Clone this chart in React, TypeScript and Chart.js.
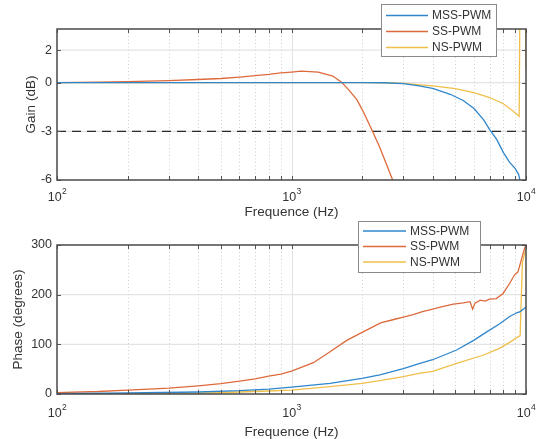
import React, { useEffect, useRef } from 'react';
import { Chart, registerables } from 'chart.js';
Chart.register(...registerables);

const FONT = "'Liberation Sans', Arial, Helvetica, sans-serif";
const TEXT = '#333333';

const seriesNames = ['MSS-PWM', 'SS-PWM', 'NS-PWM'];
const seriesColors = ['#2f86cc', '#dd6a3c', '#efbf4a'];

// ---- Gain (dB) ----
const gainFreqMSS = [100, 1000, 2000, 2500, 3000, 3500, 4000, 4750, 5400, 6000, 6600, 7000, 7500, 8000, 8500, 9000, 9300, 9450, 10000];
const gainMSS = [0, 0, 0, -0.01, -0.07, -0.2, -0.35, -0.72, -1.1, -1.6, -2.3, -2.9, -3.5, -4.3, -4.9, -5.3, -5.65, -6.1, -9];

const gainFreqSS = [100, 150, 200, 300, 400, 500, 600, 700, 800, 900, 1000, 1100, 1300, 1500, 1640, 1750, 1900, 2020, 2200, 2380, 2700, 3000];
const gainSS = [0, 0.03, 0.06, 0.12, 0.19, 0.25, 0.34, 0.43, 0.51, 0.6, 0.65, 0.7, 0.65, 0.4, 0, -0.43, -1.05, -1.77, -2.9, -4.0, -6.0, -8.0];

const gainFreqNS = [100, 1000, 2000, 2500, 3000, 4000, 5000, 6000, 7000, 8000, 8800, 9200, 9350, 9450, 9900, 10000];
const gainNS = [0, 0, 0, -0.01, -0.05, -0.2, -0.37, -0.62, -0.92, -1.3, -1.75, -2.0, -2.08, 8, 8, 0.8];

const cutoffDb = -3;

// ---- Phase (degrees) ----
const phaseFreqMSS = [100, 200, 400, 600, 800, 1000, 1460, 2000, 2380, 3000, 3500, 4000, 5060, 5980, 6800, 7700, 8520, 9130, 9440, 9860, 10000];
const phaseMSS = [0.6, 2, 4, 6.7, 10, 14, 21.5, 31.5, 38.5, 51, 61, 69, 88.6, 108, 125, 141, 156, 163.5, 166, 172.5, 175];

const phaseFreqSS = [100, 150, 200, 300, 400, 500, 600, 700, 800, 900, 1000, 1240, 1460, 1720, 2000, 2400, 2730, 3000, 3300, 3620, 4000, 4400, 4900, 5400, 5770, 5920, 6060, 6380, 6700, 7000, 7470, 7970, 8500, 8940, 9240, 9550, 9860, 10000];
const phaseSS = [2.7, 5, 8, 12, 16.5, 21, 26, 30.5, 36, 40, 46, 63, 85, 108, 124, 143, 150, 155, 160, 166, 171, 176, 181, 183.5, 186, 171, 183, 189, 187, 191, 192, 202, 222, 240, 246, 270, 293, 300];

const phaseFreqNS = [100, 200, 400, 600, 800, 1000, 1460, 2000, 2380, 3000, 3500, 4000, 5060, 6600, 7700, 8520, 9240, 9440, 9650, 9900, 10000];
const phaseNS = [0, 0.7, 1.5, 4, 6, 8, 14.8, 21.5, 26.8, 34.8, 41.6, 45.5, 61.8, 78.5, 92, 104, 115, 117, 265, 285, 290];

// ---- Axes ----
const freqRange = [100, 10000];
const gainRange = [-6, 3.3];
const phaseRange = [0, 300];
const xTickValues = [100, 200, 300, 400, 500, 600, 700, 800, 900, 1000, 2000, 3000, 4000, 5000, 6000, 7000, 8000, 9000, 10000];
const xMajorTicks = [100, 1000, 10000];
const xTickBase = '10';
const xTickExponents = ['2', '3', '4'];
const gainTicks = [-6, -3, 0, 2];
const phaseTicks = [0, 100, 200, 300];

const toPoints = (xs: number[], ys: number[]) => xs.map((x, i) => ({ x, y: ys[i] }));

const matlabAxes = {
  id: 'matlabAxes',
  beforeDatasetsDraw(chart: any) {
    const { ctx, chartArea: a, scales } = chart;
    const x = scales.x, y = scales.y;
    ctx.save();
    ctx.strokeStyle = '#e4e4e4';
    ctx.lineWidth = 1.2;
    y.ticks.forEach((t: any) => {
      const py = y.getPixelForValue(t.value);
      if (py <= a.top + 1 || py >= a.bottom - 1) return;
      ctx.beginPath();
      ctx.moveTo(a.left, py);
      ctx.lineTo(a.right, py);
      ctx.stroke();
    });
    x.ticks.forEach((t: any) => {
      const px = Math.round(x.getPixelForValue(t.value)) + 0.5;
      if (px <= a.left + 1 || px >= a.right - 1) return;
      ctx.beginPath();
      if (xMajorTicks.includes(t.value)) {
        ctx.setLineDash([]);
        ctx.strokeStyle = '#e4e4e4';
        ctx.lineWidth = 1.2;
      } else {
        ctx.setLineDash([1, 2.5]);
        ctx.strokeStyle = '#cfcfcf';
        ctx.lineWidth = 1;
      }
      ctx.moveTo(px, a.top);
      ctx.lineTo(px, a.bottom);
      ctx.stroke();
    });
    ctx.restore();
  },
  afterDatasetsDraw(chart: any) {
    const { ctx, chartArea: a, scales } = chart;
    const x = scales.x, y = scales.y;
    ctx.save();
    ctx.strokeStyle = '#555555';
    ctx.lineWidth = 1;
    x.ticks.forEach((t: any) => {
      const px = Math.round(x.getPixelForValue(t.value)) + 0.5;
      const len = 4;
      ctx.beginPath();
      ctx.moveTo(px, a.bottom);
      ctx.lineTo(px, a.bottom - len);
      ctx.moveTo(px, a.top);
      ctx.lineTo(px, a.top + len);
      ctx.stroke();
    });
    y.ticks.forEach((t: any) => {
      const py = Math.round(y.getPixelForValue(t.value)) + 0.5;
      ctx.beginPath();
      ctx.moveTo(a.left, py);
      ctx.lineTo(a.left + 4, py);
      ctx.moveTo(a.right, py);
      ctx.lineTo(a.right - 4, py);
      ctx.stroke();
    });
    ctx.lineWidth = 1.5;
    ctx.strokeStyle = '#4a4a4a';
    ctx.strokeRect(a.left, a.top, a.right - a.left, a.bottom - a.top);
    ctx.restore();
  },
  afterDraw(chart: any, _args: any, opts: any) {
    const { ctx, chartArea: a, scales } = chart;
    const x = scales.x;
    ctx.save();
    // decade labels 10^n
    ctx.fillStyle = TEXT;
    ctx.textBaseline = 'middle';
    ctx.textAlign = 'left';
    const cy = a.bottom + (opts.labelOffset || 18);
    xMajorTicks.forEach((v, i) => {
      const px = x.getPixelForValue(v);
      ctx.font = `12.5px ${FONT}`;
      const w1 = ctx.measureText(xTickBase).width;
      ctx.font = `8.5px ${FONT}`;
      const w2 = ctx.measureText(xTickExponents[i]).width;
      const x0 = px - (w1 + w2) / 2;
      ctx.font = `12.5px ${FONT}`;
      ctx.fillText(xTickBase, x0, cy);
      ctx.font = `8.5px ${FONT}`;
      ctx.fillText(xTickExponents[i], x0 + w1 + 0.5, cy - 6);
    });
    const lg = opts && opts.legend;
    if (lg) {
      const bx = a.right + lg.dx, by = a.top + lg.dy;
      ctx.fillStyle = '#ffffff';
      ctx.fillRect(bx, by, lg.w, lg.h);
      ctx.strokeStyle = '#8a8a8a';
      ctx.lineWidth = 1;
      ctx.strokeRect(bx + 0.5, by + 0.5, lg.w, lg.h);
      const items = chart.data.datasets.filter((d: any) => seriesNames.includes(d.label));
      ctx.font = `12px ${FONT}`;
      items.forEach((d: any, i: number) => {
        const yy = by + lg.row0 + i * lg.rowStep;
        ctx.strokeStyle = d.borderColor;
        ctx.lineWidth = 1.5;
        ctx.beginPath();
        ctx.moveTo(bx + 5, yy);
        ctx.lineTo(bx + 5 + lg.lineLen, yy);
        ctx.stroke();
        ctx.fillStyle = TEXT;
        ctx.fillText(d.label, bx + 9 + lg.lineLen, yy + 0.5);
      });
    }
    ctx.restore();
  },
};

function makeChart(canvas: HTMLCanvasElement, cfg: any) {
  const datasets = cfg.series.map((s: any, i: number) => ({
    label: seriesNames[i],
    data: toPoints(s[0], s[1]),
    borderColor: seriesColors[i],
    backgroundColor: seriesColors[i],
    borderWidth: 1.3,
    pointRadius: 0,
    tension: 0,
    fill: false,
  }));
  if (cfg.extra) datasets.push(cfg.extra);
  return new Chart(canvas, {
    type: 'line',
    data: { datasets },
    plugins: [matlabAxes as any],
    options: {
      animation: false,
      responsive: false,
      devicePixelRatio: 1,
      events: [],
      layout: { padding: { top: cfg.padTop, right: 14, left: 0, bottom: 0 } },
      plugins: {
        legend: { display: false },
        tooltip: { enabled: false },
        matlabAxes: { legend: cfg.legend, labelOffset: cfg.labelOffset },
      } as any,
      scales: {
        x: {
          type: 'logarithmic',
          min: freqRange[0],
          max: freqRange[1],
          grid: { display: false, drawTicks: false },
          border: { display: false },
          afterBuildTicks: (s: any) => { s.ticks = xTickValues.map((v) => ({ value: v })); },
          afterFit: (s: any) => { s.height = cfg.xAxisHeight; s.paddingLeft = 0; s.paddingRight = 0; },
          ticks: { display: false, autoSkip: false, maxRotation: 0, minRotation: 0 },
          title: {
            display: true,
            text: 'Frequence (Hz)',
            color: TEXT,
            font: { size: 13.5, family: FONT, lineHeight: 1 },
            padding: { top: 0, bottom: cfg.xTitlePad },
          },
        },
        y: {
          type: 'linear',
          min: cfg.yRange[0],
          max: cfg.yRange[1],
          grid: { display: false, drawTicks: false },
          border: { display: false },
          afterBuildTicks: (s: any) => { s.ticks = cfg.yTicks.map((v: number) => ({ value: v })); },
          afterFit: (s: any) => { s.width = 57; s.paddingTop = 0; s.paddingBottom = 0; },
          ticks: {
            padding: 5,
            color: TEXT,
            font: { size: 12.5, family: FONT },
            callback: (v: any) => String(v),
          },
          title: {
            display: true,
            text: cfg.yTitle,
            color: TEXT,
            font: { size: 13.5, family: FONT, lineHeight: 1 },
            padding: { top: cfg.yTitlePad, bottom: 0 },
          },
        },
      },
    } as any,
  });
}

export default function App() {
  const gainRef = useRef<HTMLCanvasElement>(null);
  const phaseRef = useRef<HTMLCanvasElement>(null);

  useEffect(() => {
    Chart.defaults.font.family = FONT;
    const g = makeChart(gainRef.current!, {
      series: [[gainFreqMSS, gainMSS], [gainFreqSS, gainSS], [gainFreqNS, gainNS]],
      extra: {
        label: 'cutoff',
        data: toPoints(freqRange, [cutoffDb, cutoffDb]),
        borderColor: '#2b2b2b',
        borderWidth: 1.2,
        borderDash: [9, 6],
        pointRadius: 0,
        fill: false,
      },
      padTop: 29,
      xAxisHeight: 39,
      labelOffset: 18,
      xTitlePad: 0,
      yRange: gainRange,
      yTicks: gainTicks,
      yTitle: 'Gain (dB)',
      yTitlePad: 25,
      legend: { dx: -145, dy: -25, w: 115, h: 52, row0: 11.5, rowStep: 16, lineLen: 42 },
    });
    const p = makeChart(phaseRef.current!, {
      series: [[phaseFreqMSS, phaseMSS], [phaseFreqSS, phaseSS], [phaseFreqNS, phaseNS]],
      padTop: 26,
      xAxisHeight: 45,
      labelOffset: 19.5,
      xTitlePad: 0,
      yRange: phaseRange,
      yTicks: phaseTicks,
      yTitle: 'Phase (degrees)',
      yTitlePad: 12,
      legend: { dx: -168, dy: -24, w: 122, h: 51, row0: 10, rowStep: 15.5, lineLen: 43 },
    });
    return () => { g.destroy(); p.destroy(); };
  }, []);

  return (
    <div style={{ position: 'absolute', left: 0, top: 0, width: 540, height: 439, background: '#fff' }}>
      <canvas ref={gainRef} width={540} height={219} style={{ position: 'absolute', left: 0, top: 0 }} />
      <canvas ref={phaseRef} width={540} height={220} style={{ position: 'absolute', left: 0, top: 219 }} />
    </div>
  );
}
